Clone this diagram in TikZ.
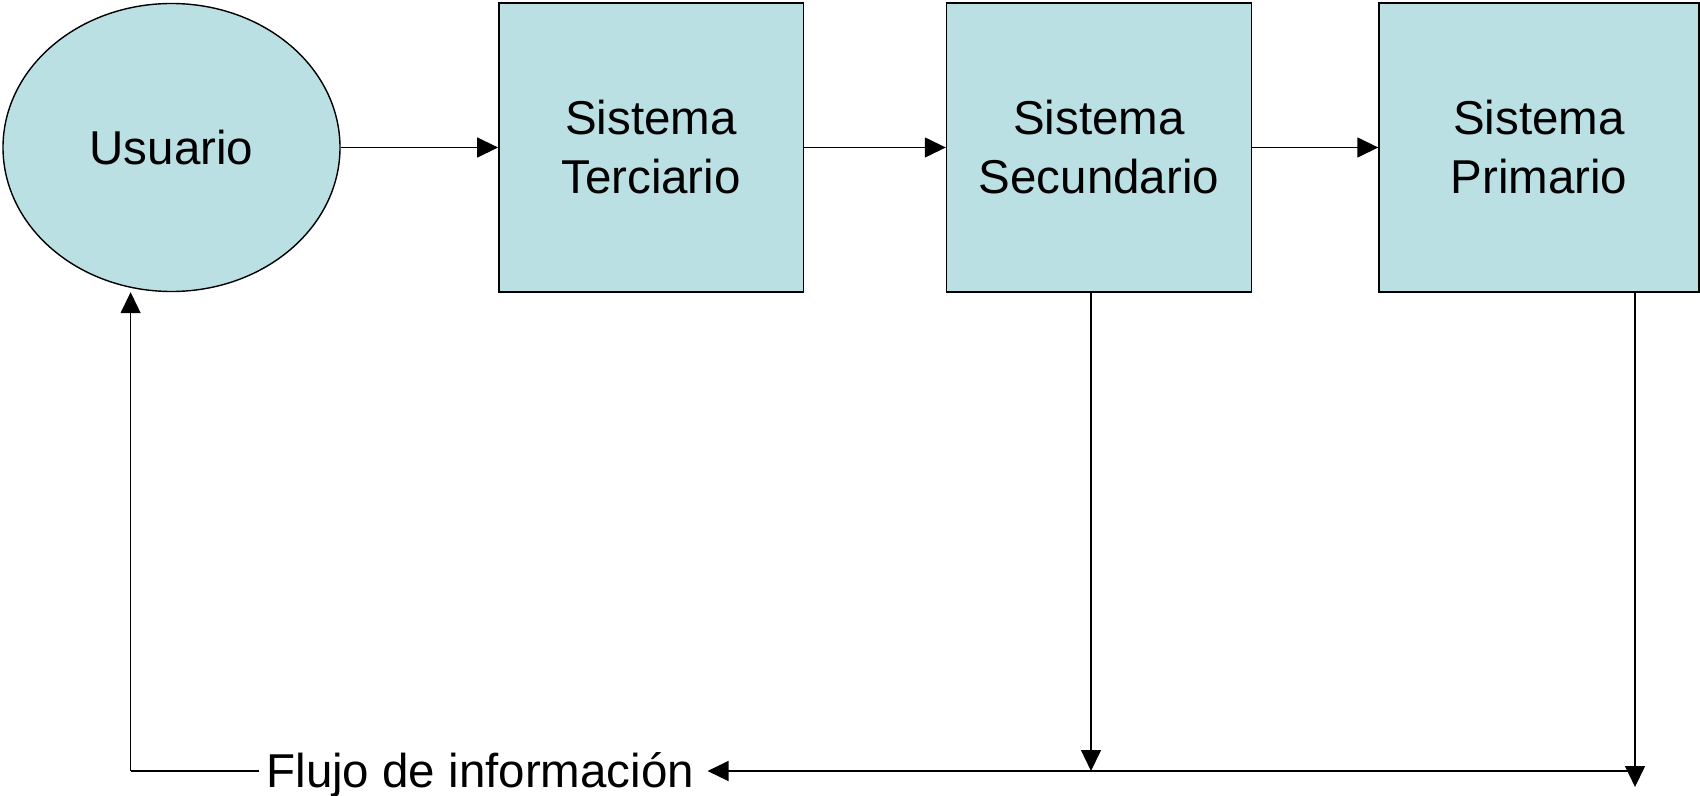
\documentclass[tikz,border=0pt]{standalone}
\usepackage{fontspec}
\setmainfont{Liberation Sans}
\usetikzlibrary{shapes.geometric,arrows.meta}
\definecolor{boxfill}{RGB}{187,224,227}
\begin{document}
\begin{tikzpicture}[x=0.5pt,y=-0.5pt,
 every node/.style={font=\fontsize{23.75}{29.5}\selectfont},
 sysbox/.style={draw,line width=0.7pt,fill=boxfill,rectangle,minimum height=144.5pt,align=center,inner sep=0pt},
 userell/.style={draw,line width=0.7pt,fill=boxfill,ellipse,minimum width=168.5pt,minimum height=144pt,inner sep=0pt},
 conn/.style={line width=0.7pt,-{Triangle[length=10.5pt,width=10pt]}},
 plainline/.style={line width=0.7pt}]
\useasboundingbox (0,0) rectangle (1700,796);
\node[userell] (u) at (171.5,147.5) {Usuario};
\node[sysbox,minimum width=152.2pt] (t) at (651,147.5) {Sistema\\Terciario};
\node[sysbox,minimum width=152.5pt] (s) at (1099,147.5) {Sistema\\Secundario};
\node[sysbox,minimum width=160pt] (p) at (1539,147.5) {Sistema\\Primario};
\node[inner sep=0pt,anchor=base] (f) at (480.3,787.7) {Flujo de información};
\coordinate (sb) at (1091,771);
\coordinate (pb) at (1635,787);
\coordinate (pl) at (1635,771);
\coordinate (ul) at (130.6,771);
\draw[conn] (u) -- (t);
\draw[conn] (t) -- (s);
\draw[conn] (s) -- (p);
\draw[conn] (s.south -| sb) -- (sb);
\draw[conn] (p.south -| pb) -- (pb);
\draw[conn] (pl) -- ([xshift=6.5pt]pl -| f.east);
\draw[plainline] ([xshift=-3.3pt]ul -| f.west) -- (ul);
\draw[conn] (ul) -- (ul |- u.south);
\end{tikzpicture}
\end{document}
